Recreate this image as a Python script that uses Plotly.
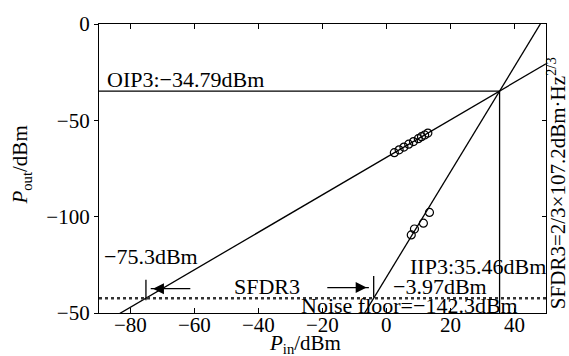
import plotly.graph_objects as go

# ---- data ----
x_range = [-90, 50]
y_range = [-150, 0]
x_ticks = [-80, -60, -40, -20, 0, 20, 40]
x_tick_text = ["−80", "−60", "−40", "−20", "0", "20", "40"]
y_ticks = [0, -50, -100, -150]
y_tick_text = ["0", "−50", "−100", "−50"]

oip3 = -34.79
iip3 = 35.46
noise_floor = -142.3
fund_floor_x = -75.3
imd_floor_x = -3.97

fund_pin = [2.5, 4.0, 5.5, 7.0, 8.5, 10.0, 11.0, 12.0, 13.0]
fund_pout = [-66.8, -65.3, -63.9, -62.4, -61.0, -59.5, -58.5, -57.6, -56.6]
imd_pin = [7.8, 8.8, 11.6, 13.5]
imd_pout = [-109.5, -106.4, -103.4, -97.8]

FONT = "Liberation Serif"
FS = 22
TICK_FS = 21

def line_through(x0, y0, x1, y1, xs):
    k = (y1 - y0) / (x1 - x0)
    return [y0 + k * (x - x0) for x in xs]

xs = [x_range[0], x_range[1]]
fund_line = line_through(fund_floor_x, noise_floor, iip3, oip3, xs)
imd_line = line_through(imd_floor_x, noise_floor, iip3, oip3, xs)

fig = go.Figure()
line_style = dict(color="black", width=1.3)
fig.add_trace(go.Scatter(x=xs, y=fund_line, mode="lines", line=line_style, showlegend=False))
fig.add_trace(go.Scatter(x=xs, y=imd_line, mode="lines", line=line_style, showlegend=False))
# OIP3 horizontal and IIP3 vertical
fig.add_trace(go.Scatter(x=[x_range[0], iip3], y=[oip3, oip3], mode="lines", line=line_style, showlegend=False))
fig.add_trace(go.Scatter(x=[iip3, iip3], y=[oip3, y_range[0]], mode="lines", line=line_style, showlegend=False))
# noise floor
fig.add_trace(go.Scatter(x=xs, y=[noise_floor, noise_floor], mode="lines",
                         line=dict(color="#333333", width=2.5, dash="dot"), showlegend=False))
# measured points
mk = dict(symbol="circle-open", size=8, color="black", line=dict(width=1.2))
fig.add_trace(go.Scatter(x=fund_pin, y=fund_pout, mode="markers", marker=mk, showlegend=False))
fig.add_trace(go.Scatter(x=imd_pin, y=imd_pout, mode="markers", marker=mk, showlegend=False))
# vertical marker ticks at floor crossings
fig.add_trace(go.Scatter(x=[fund_floor_x, fund_floor_x], y=[-132.8, -143.4], mode="lines", line=line_style, showlegend=False))
fig.add_trace(go.Scatter(x=[imd_floor_x, imd_floor_x], y=[-130.8, -141.9], mode="lines", line=line_style, showlegend=False))
# arrows (line + arrowhead marker)
fig.add_trace(go.Scatter(x=[-61.4, fund_floor_x + 1.5], y=[-137.4, -137.4], mode="lines", line=line_style, showlegend=False))
fig.add_trace(go.Scatter(x=[fund_floor_x + 2.2], y=[-137.4], mode="markers",
                         marker=dict(symbol="arrow-left", size=11, color="black"), showlegend=False))
fig.add_trace(go.Scatter(x=[-18.5, imd_floor_x - 1.5], y=[-136.8, -136.8], mode="lines", line=line_style, showlegend=False))
fig.add_trace(go.Scatter(x=[imd_floor_x - 2.2], y=[-136.8], mode="markers",
                         marker=dict(symbol="arrow-right", size=11, color="black"), showlegend=False))
# dummy trace for right axis
fig.add_trace(go.Scatter(x=[0], y=[0], yaxis="y2", mode="markers", marker=dict(opacity=0), showlegend=False, hoverinfo="skip"))

annotations = []
def txt(x, y, s, xanchor="left", yanchor="middle", xref="paper", **kw):
    annotations.append(dict(x=x, y=y, xref=xref, yref="paper", text=s, showarrow=False,
                            xanchor=xanchor, yanchor=yanchor,
                            font=dict(family=FONT, size=kw.pop("size", FS), color="black"), **kw))

# plot area pixel helpers (l=99, r=546, t=17, b=313)
L, R, T, B = 99, 546, 17, 313
def px(xp): return (xp - L) / (R - L)
def py(yp): return (B - yp) / (B - T)

txt(px(105), py(74), "OIP3:−34.79dBm")
txt(px(102), py(255), "−75.3dBm")
txt(px(232), py(286), "SFDR3")
txt(px(408), py(265), "IIP3:35.46dBm")
txt(px(391), py(286), "−3.97dBm")
txt(px(299), py(305), "Noise floor=−142.3dBm")
txt(px(556), py(180), "SFDR3=2/3×107.2dBm·Hz<sup>2/3</sup>", xanchor="center", textangle=-90, size=21)
txt(px(21), py(162), "<i>P</i><sub>out</sub>/dBm", xanchor="center", textangle=-90, size=21)
txt(px(305), py(345), "<i>P</i><sub>in</sub>/dBm", xanchor="center", size=21)
# x tick labels placed from the tick arrays
for v, t in zip(x_ticks, x_tick_text):
    txt(v, py(325), t, xanchor="center", xref="x", size=TICK_FS)

fig.update_layout(
    width=569, height=356,
    margin=dict(l=L, r=569 - R, t=T, b=356 - B),
    paper_bgcolor="white", plot_bgcolor="white",
    font=dict(family=FONT, size=TICK_FS, color="black"),
    annotations=annotations,
    xaxis=dict(range=x_range, tickvals=x_ticks, showticklabels=False, ticks="inside", ticklen=5,
               tickcolor="black", showline=True, linecolor="black", linewidth=1.3, mirror="ticks",
               showgrid=False, zeroline=False),
    yaxis=dict(range=y_range, tickvals=y_ticks, ticktext=y_tick_text, ticks="outside", ticklen=4,
               tickcolor="black", showline=True, linecolor="black", linewidth=1.3, mirror=True,
               showgrid=False, zeroline=False, tickfont=dict(family=FONT, size=TICK_FS)),
    yaxis2=dict(range=y_range, overlaying="y", side="right", tickvals=y_ticks, ticks="inside",
                ticklen=4, tickcolor="black", showticklabels=False, showgrid=False, zeroline=False,
                showline=False),
)

fig.write_html("out.html")
